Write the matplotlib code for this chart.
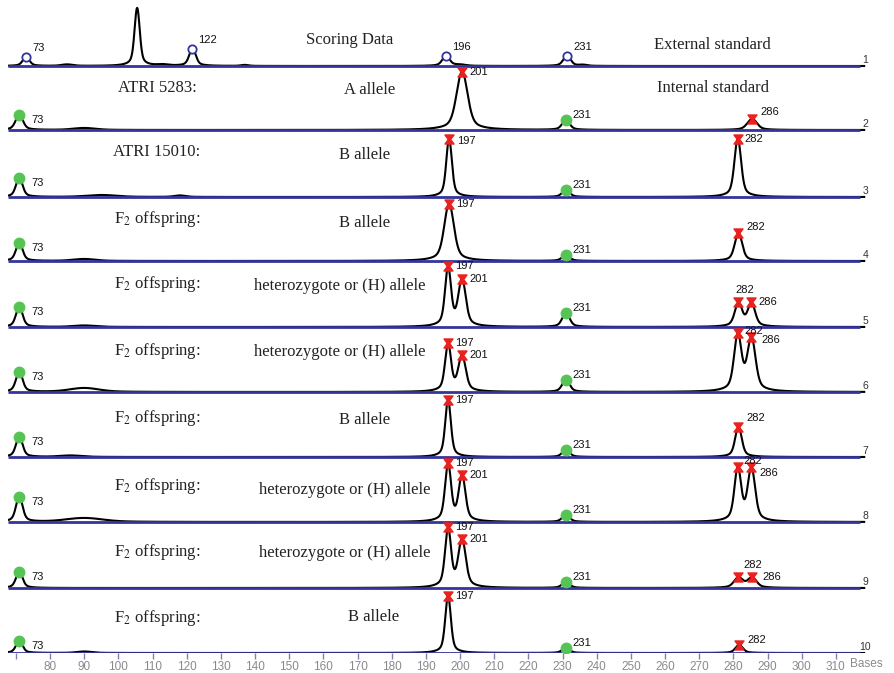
import numpy as np
import matplotlib.pyplot as plt
from matplotlib.path import Path

plt.rcParams['mathtext.fontset'] = 'stix'

# ---- data ----
# one entry per panel (top to bottom): (size in bases, height in px, width sigma)
peaks = [
    [(73, 9, 0.9), (85, 1.5, 1.5), (105.5, 58, 0.7), (113, 1.2, 1.5), (121.7, 17, 0.9),
     (137, 1, 1.0), (195.9, 10, 1.0), (200, 1.2, 1.5), (231.3, 10, 1.0), (236, 1, 1.0)],
    [(71, 15, 1.0), (90, 2, 3.0), (200.6, 58, 1.5), (231, 10, 1.0), (285.5, 11, 1.3)],
    [(71, 19, 0.9), (95, 2, 4.0), (118, 1.5, 1.5), (196.8, 58, 0.75), (231, 7, 1.0), (281.3, 58, 0.9)],
    [(71, 18, 0.9), (90, 2, 3.0), (196.8, 57, 1.3), (231, 6, 1.0), (281.5, 28, 1.0)],
    [(71, 20, 0.9), (90, 1.5, 3.0), (196.5, 58, 0.8), (200.6, 46, 1.0), (231, 14, 1.0),
     (281.5, 23, 1.0), (285.3, 23, 1.0)],
    [(71, 20, 0.9), (90, 4, 4.0), (196.5, 47, 0.8), (200.6, 35, 1.0), (231, 12, 1.0),
     (281.3, 55, 1.0), (285.3, 52, 1.1)],
    [(71, 20, 0.9), (86, 1.5, 3.0), (196.5, 57, 0.75), (231, 7, 1.0), (281.5, 30, 0.9)],
    [(71, 25, 0.9), (90, 4, 5.0), (196.5, 57, 0.8), (200.6, 45, 0.9), (231, 7, 1.0),
     (281.3, 52, 0.9), (285.3, 52, 1.0)],
    [(71, 16, 0.9), (196.5, 58, 0.8), (200.6, 47, 1.0), (231, 6, 1.0),
     (281.5, 10, 1.2), (285.5, 10, 1.2)],
    [(71, 12, 0.9), (90, 1.5, 2.0), (196.5, 57, 0.75), (231, 5, 1.0), (281.7, 8, 1.0)],
]

# called peaks: (label, size, kind)  kind: ext / int / allele
calls = [
    [("73", 73, "ext"), ("122", 121.7, "ext"), ("196", 195.9, "ext"), ("231", 231.3, "ext")],
    [("73", 71, "int"), ("201", 200.6, "allele"), ("231", 231, "int"), ("286", 285.5, "allele")],
    [("73", 71, "int"), ("197", 196.8, "allele"), ("231", 231, "int"), ("282", 281.3, "allele")],
    [("73", 71, "int"), ("197", 196.8, "allele"), ("231", 231, "int"), ("282", 281.5, "allele")],
    [("73", 71, "int"), ("197", 196.5, "allele"), ("201", 200.6, "allele"), ("231", 231, "int"),
     ("282", 281.5, "allele"), ("286", 285.3, "allele")],
    [("73", 71, "int"), ("197", 196.5, "allele"), ("201", 200.6, "allele"), ("231", 231, "int"),
     ("282", 281.3, "allele"), ("286", 285.3, "allele")],
    [("73", 71, "int"), ("197", 196.5, "allele"), ("231", 231, "int"), ("282", 281.5, "allele")],
    [("73", 71, "int"), ("197", 196.5, "allele"), ("201", 200.6, "allele"), ("231", 231, "int"),
     ("282", 281.3, "allele"), ("286", 285.3, "allele")],
    [("73", 71, "int"), ("197", 196.5, "allele"), ("201", 200.6, "allele"), ("231", 231, "int"),
     ("282", 281.5, "allele"), ("286", 285.5, "allele")],
    [("73", 71, "int"), ("197", 196.5, "allele"), ("231", 231, "int"), ("282", 281.7, "allele")],
]

sample_names = ["", "ATRI 5283:", "ATRI 15010:"] + ["F$_2$ offspring:"] * 7
allele_names = ["Scoring Data", "A allele", "B allele", "B allele",
                "heterozygote or (H) allele", "heterozygote or (H) allele", "B allele",
                "heterozygote or (H) allele", "heterozygote or (H) allele", "B allele"]
standard_names = ["External standard", "Internal standard"] + [""] * 8
panel_numbers = [str(i) for i in range(1, 11)]
tick_values = list(range(70, 311, 10))

# ---- layout ----
baseline_px = [66, 130, 197, 261, 327, 392, 457, 522, 588, 653]
name_up = [26, 42, 45, 42, 43, 41, 39, 36, 36, 35]
allele_up = [26, 40, 42, 38, 41, 40, 37, 32, 35, 36]
allele_x = [167.8, 173.6, 172.2, 172.2, 164.9, 164.9, 172.2, 166.3, 166.3, 174.8]
# label offsets in pixels for special cases
special = {
    (4, "282"): (-3, 12), (5, "282"): (7, 2), (7, "282"): (6, 6), (8, "282"): (5, 12),
    (8, "286"): (10, 0), (5, "286"): (10, -3), (7, "286"): (8, -6),
    (1, "286"): (8, 7), (3, "282"): (8, 6), (6, "282"): (8, 9), (9, "282"): (8, 5),
    (2, "197"): (8, -2),
}

BLUE = '#34349a'
GREEN = '#55c455'
RED = '#e8221e'
hourglass = Path([(-1, 1), (1, 1), (0.25, 0), (1, -1), (-1, -1), (-0.25, 0), (-1, 1)],
                 [Path.MOVETO] + [Path.LINETO] * 5 + [Path.CLOSEPOLY])


def trace(x, pk):
    x = np.asarray(x, dtype=float)
    y = np.zeros(x.shape, dtype=float)
    for mu, h, s in pk:
        g = np.exp(-0.5 * ((x - mu) / s) ** 2)
        lor = 1.0 / (1.0 + ((x - mu) / (2.0 * s)) ** 2)
        y += h * (0.7 * g + 0.3 * lor)
    return y


fig = plt.figure(figsize=(8.94, 6.73), dpi=100)
ax = fig.add_axes([8 / 894, 20 / 673, 862 / 894, 653 / 673])
ax.set_xlim(67.7, 320.0)
ax.set_ylim(0, 653)

x = np.linspace(67.7, 318.3, 3000)
serif = ['Liberation Serif', 'DejaVu Serif']
sans = ['Liberation Sans', 'DejaVu Sans']

for i in range(10):
    y0 = 653 - baseline_px[i]
    y = trace(x, peaks[i])
    ax.plot(x, y0 + y, color='black', lw=1.5, zorder=2)
    ax.plot([67.7, 317.0], [y0, y0], color=BLUE, lw=2.0, zorder=3, solid_capstyle='butt')

    for lab, pos, kind in calls[i]:
        yp = y0 + trace([pos], peaks[i])[0]
        if kind == "ext":
            ax.plot(pos, yp, 'o', ms=6, mfc='white', mec=BLUE, mew=1.3, zorder=4)
            off = (6, 9)
        elif kind == "int":
            ax.plot(pos, yp, 'o', ms=7.5, color=GREEN, zorder=4)
            off = (12, -5) if lab == "73" else (7, 5)
        else:
            ax.plot(pos, yp, marker=hourglass, ms=6.5, color=RED, zorder=4)
            off = (7, 0)
        off = special.get((i, lab), off)
        ax.annotate(lab, (pos, yp), xytext=off, textcoords='offset pixels',
                    ha='left', va='center', fontsize=8, family=sans,
                    color='#111111', zorder=5)

    if sample_names[i]:
        ax.text(111.3, y0 + name_up[i], sample_names[i], ha='center', va='center',
                fontsize=12, family=serif, color='#222222')
    ax.text(allele_x[i], y0 + allele_up[i], allele_names[i], ha='center', va='center',
            fontsize=12, family=serif, color='#222222')
    if standard_names[i]:
        ax.text(274.0, y0 + (21 if i == 0 else 42), standard_names[i], ha='center',
                va='center', fontsize=12, family=serif, color='#222222')
    ax.text(318.6, y0 + 1, panel_numbers[i], ha='center', va='bottom',
            fontsize=7.5, family=sans, color='#333333')

ax.set_xticks(tick_values)
ax.set_xticklabels([''] + [str(v) for v in tick_values[1:]], family=sans)
ax.tick_params(axis='x', length=4, width=1, color='#8080a8', labelcolor='#8a8a8a',
               labelsize=8.5, pad=2)
ax.set_yticks([])
for s in ax.spines.values():
    s.set_visible(False)

fig.text(850 / 894, 1 - 664 / 673, "Bases", ha='left', va='center',
         fontsize=8.5, family=sans, color='#8a8a8a')

fig.savefig('out.png', dpi=100)
